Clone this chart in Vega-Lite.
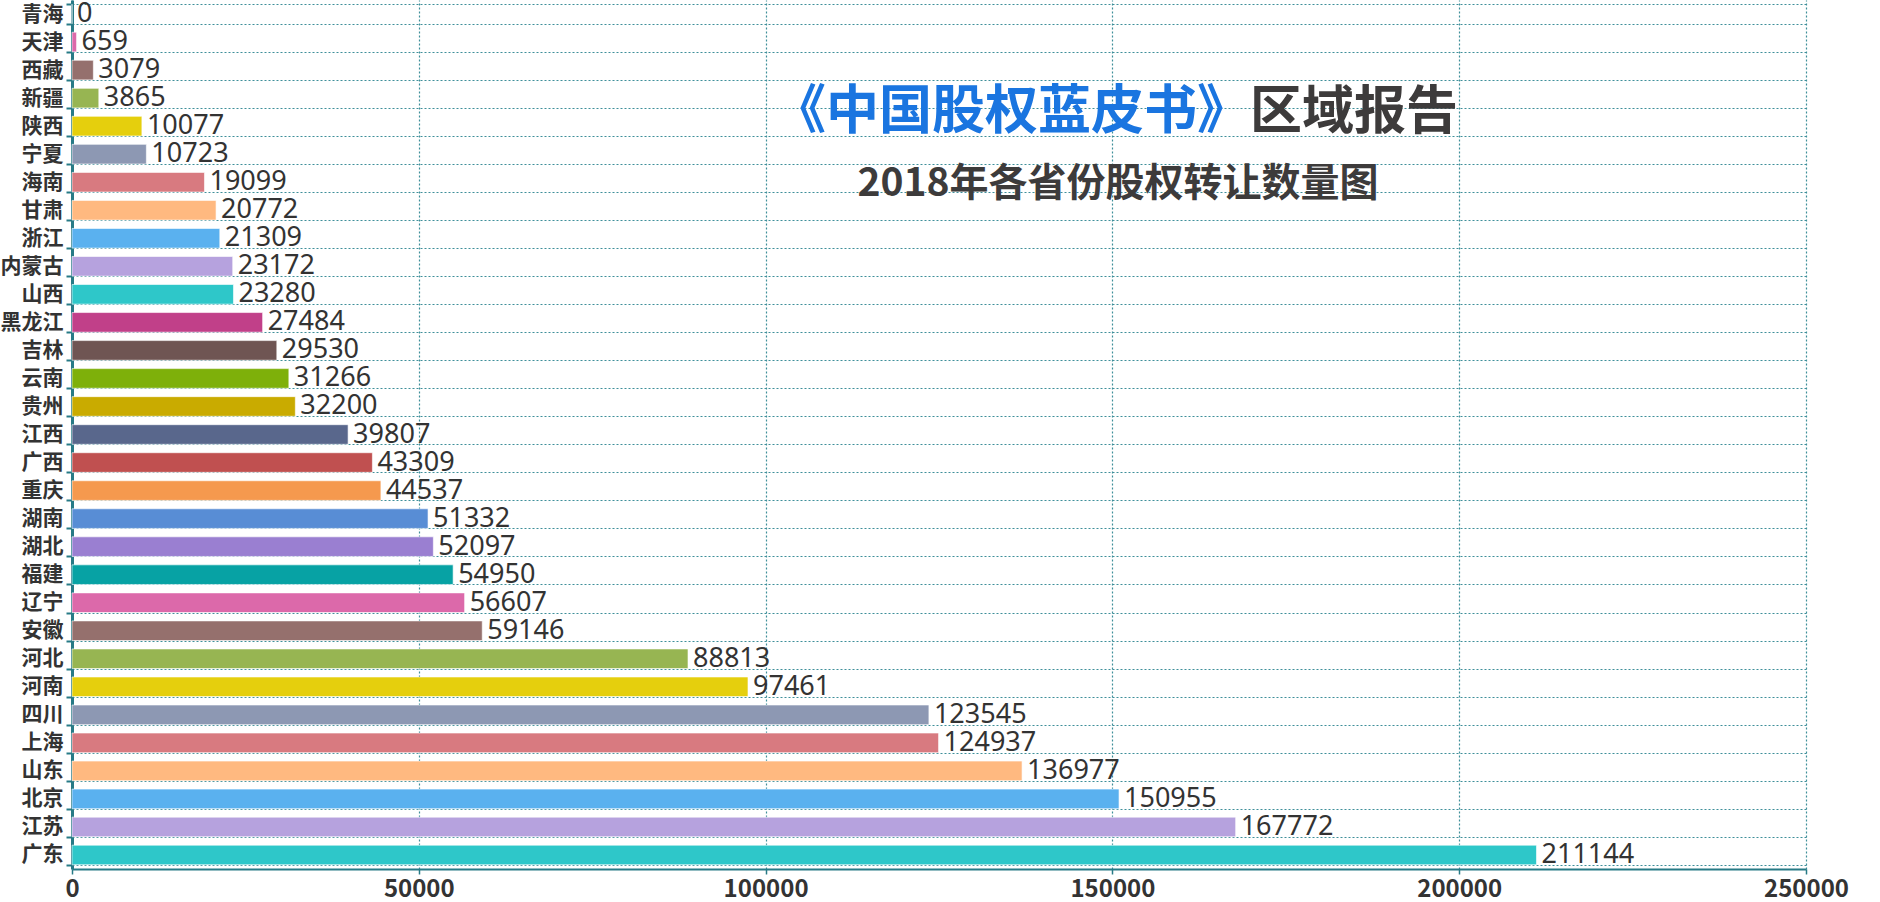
{
  "$schema": "https://vega.github.io/schema/vega-lite/v6.json",
  "width": 1734,
  "height": 869,
  "autosize": {"type": "none"},
  "padding": {"left": 72, "top": 0, "right": 74, "bottom": 33},
  "background": "#ffffff",
  "config": {
    "view": {"stroke": null},
    "font": "Noto Sans CJK SC"
  },
  "datasets": {
    "prov": [
      {"province": "青海", "count": 0},
      {"province": "天津", "count": 659},
      {"province": "西藏", "count": 3079},
      {"province": "新疆", "count": 3865},
      {"province": "陕西", "count": 10077},
      {"province": "宁夏", "count": 10723},
      {"province": "海南", "count": 19099},
      {"province": "甘肃", "count": 20772},
      {"province": "浙江", "count": 21309},
      {"province": "内蒙古", "count": 23172},
      {"province": "山西", "count": 23280},
      {"province": "黑龙江", "count": 27484},
      {"province": "吉林", "count": 29530},
      {"province": "云南", "count": 31266},
      {"province": "贵州", "count": 32200},
      {"province": "江西", "count": 39807},
      {"province": "广西", "count": 43309},
      {"province": "重庆", "count": 44537},
      {"province": "湖南", "count": 51332},
      {"province": "湖北", "count": 52097},
      {"province": "福建", "count": 54950},
      {"province": "辽宁", "count": 56607},
      {"province": "安徽", "count": 59146},
      {"province": "河北", "count": 88813},
      {"province": "河南", "count": 97461},
      {"province": "四川", "count": 123545},
      {"province": "上海", "count": 124937},
      {"province": "山东", "count": 136977},
      {"province": "北京", "count": 150955},
      {"province": "江苏", "count": 167772},
      {"province": "广东", "count": 211144}
    ],
    "titles": [
      {"part": "blue", "label": "《中国股权蓝皮书》", "xpos": 169850, "row": "陕西"},
      {"part": "gray", "label": "区域报告", "xpos": 169850, "row": "陕西"},
      {"part": "sub", "label": "2018年各省份股权转让数量图", "xpos": 150800, "row": "海南"}
    ]
  },
  "layer": [
    {
      "data": {"name": "prov"},
      "mark": {"type": "bar", "stroke": "#ffffff", "strokeOpacity": 0.6, "strokeWidth": 1},
      "encoding": {
        "y": {
          "field": "province",
          "type": "nominal",
          "scale": {
            "domain": ["青海","天津","西藏","新疆","陕西","宁夏","海南","甘肃","浙江","内蒙古","山西","黑龙江","吉林","云南","贵州","江西","广西","重庆","湖南","湖北","福建","辽宁","安徽","河北","河南","四川","上海","山东","北京","江苏","广东"],
            "paddingInner": 0.3,
            "paddingOuter": 0.15
          },
          "axis": {
            "title": null,
            "domain": true,
            "domainColor": "#277a86",
            "domainWidth": 3,
            "ticks": true,
            "tickColor": "#277a86",
            "tickSize": 6,
            "tickWidth": 2,
            "tickBand": "extent",
            "grid": true,
            "gridColor": "#3f8f9a",
            "gridDash": [2, 2],
            "gridWidth": 1.2,
            "labelFont": "Noto Sans CJK SC",
            "labelFontWeight": "bold",
            "labelFontSize": 21,
            "labelColor": "#333333",
            "labelPadding": 3
          }
        },
        "x": {
          "field": "count",
          "type": "quantitative",
          "scale": {"domain": [0, 250000], "nice": false},
          "axis": {
            "title": null,
            "values": [0, 50000, 100000, 150000, 200000, 250000],
            "format": "d",
            "domain": true,
            "domainColor": "#277a86",
            "domainWidth": 2,
            "ticks": true,
            "tickColor": "#277a86",
            "tickSize": 5,
            "tickWidth": 1.5,
            "grid": true,
            "gridColor": "#3f8f9a",
            "gridDash": [2, 2],
            "gridWidth": 1.2,
            "labelFont": "Noto Sans CJK SC",
            "labelFontWeight": "bold",
            "labelFontSize": 24,
            "labelColor": "#333333",
            "labelPadding": 3,
            "labelFlush": false
          }
        },
        "color": {
          "field": "province",
          "type": "nominal",
          "legend": null,
          "scale": {
            "domain": ["广东","江苏","北京","山东","上海","四川","河南","河北","安徽","辽宁","福建","湖北","湖南","重庆","广西","江西","贵州","云南","吉林","黑龙江","山西","内蒙古","浙江","甘肃","海南","宁夏","陕西","新疆","西藏","天津","青海"],
            "range": ["#2ec7c9","#b6a2de","#5ab1ef","#ffb980","#d87a80","#8d98b3","#e5cf0d","#97b552","#95706d","#dc69aa","#07a2a4","#9a7fd1","#588dd5","#f5994e","#c05050","#59678c","#c9ab00","#7eb00a","#6f5553","#c14089","#2ec7c9","#b6a2de","#5ab1ef","#ffb980","#d87a80","#8d98b3","#e5cf0d","#97b552","#95706d","#dc69aa","#07a2a4"]
          }
        }
      }
    },
    {
      "data": {"name": "prov"},
      "mark": {"type": "text", "align": "left", "baseline": "middle", "dx": 5, "fontSize": 27, "font": "Noto Sans", "fill": "#333333"},
      "encoding": {
        "y": {"field": "province", "type": "nominal"},
        "x": {"field": "count", "type": "quantitative"},
        "text": {"field": "count", "type": "quantitative", "format": "d"}
      }
    },
    {
      "data": {"name": "titles"},
      "transform": [{"filter": "datum.part === 'blue'"}],
      "mark": {"type": "text", "align": "right", "baseline": "middle", "dy": -13, "fontSize": 53, "fontWeight": "bold", "font": "Noto Sans CJK SC", "fill": "#1a75e0"},
      "encoding": {
        "y": {"field": "row", "type": "nominal"},
        "x": {"field": "xpos", "type": "quantitative"},
        "text": {"field": "label", "type": "nominal"}
      }
    },
    {
      "data": {"name": "titles"},
      "transform": [{"filter": "datum.part === 'gray'"}],
      "mark": {"type": "text", "align": "left", "baseline": "middle", "dy": -13, "fontSize": 52, "fontWeight": "bold", "font": "Noto Sans CJK SC", "fill": "#3d3b3b"},
      "encoding": {
        "y": {"field": "row", "type": "nominal"},
        "x": {"field": "xpos", "type": "quantitative"},
        "text": {"field": "label", "type": "nominal"}
      }
    },
    {
      "data": {"name": "titles"},
      "transform": [{"filter": "datum.part === 'sub'"}],
      "mark": {"type": "text", "align": "center", "baseline": "middle", "dy": 2, "fontSize": 39, "fontWeight": "bold", "font": "Noto Sans CJK SC", "fill": "#3d3b3b"},
      "encoding": {
        "y": {"field": "row", "type": "nominal"},
        "x": {"field": "xpos", "type": "quantitative"},
        "text": {"field": "label", "type": "nominal"}
      }
    }
  ]
}
